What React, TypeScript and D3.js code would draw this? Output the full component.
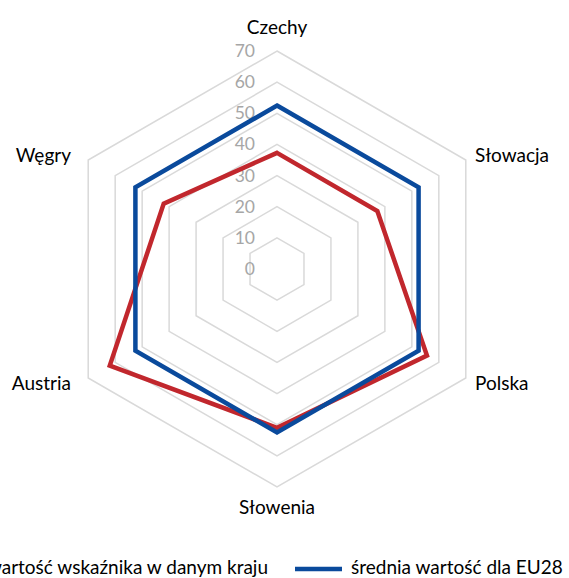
import React from "react";
import * as d3 from "d3";

const axes = ["Czechy", "Słowacja", "Polska", "Słowenia", "Austria", "Węgry"];
const countryValues = [37.3, 37.2, 55.6, 51, 62, 42];
const euValues = [52.5, 52.5, 52.5, 52.5, 52.5, 52.5];
const ticks = [0, 10, 20, 30, 40, 50, 60, 70];
const seriesNames = ["wartość wskaźnika w danym kraju", "średnia wartość dla EU28"];

const W = 569;
const H = 578;
const cx = 277;
const cy = 269;
const R = 218;
const FONT = "Lato, 'Open Sans', sans-serif";
const RED = "#c1272d";
const BLUE = "#0a4a9c";

export default function App() {
  const r = d3.scaleLinear().domain([0, 70]).range([0, R]);
  const angle = (i: number) => (i * 2 * Math.PI) / axes.length;
  const pt = (i: number, v: number): [number, number] => [
    cx + r(v) * Math.sin(angle(i)),
    cy - r(v) * Math.cos(angle(i)),
  ];
  const line = d3.line<[number, number]>().curve(d3.curveLinearClosed);
  const ring = (v: number) => line(axes.map((_, i) => pt(i, v)));
  const series = [
    { name: seriesNames[0], values: countryValues, color: RED },
    { name: seriesNames[1], values: euValues, color: BLUE },
  ];
  const labelPos = [
    { x: cx, y: 34, anchor: "middle" },
    { x: 475, y: 162, anchor: "start" },
    { x: 475, y: 390, anchor: "start" },
    { x: cx, y: 514, anchor: "middle" },
    { x: 71, y: 390, anchor: "end" },
    { x: 71, y: 162, anchor: "end" },
  ];
  return (
    <svg
      width={W}
      height={H}
      style={{ position: "absolute", left: 0, top: 0, background: "#fff" }}
      fontFamily={FONT}
    >
      {ticks.slice(1).map((t) => (
        <path key={t} d={ring(t) || ""} fill="none" stroke="#d9d9d9" strokeWidth={1.5} />
      ))}
      {ticks.map((t) => (
        <text
          key={"l" + t}
          x={255}
          y={cy - r(t) + 6}
          textAnchor="end"
          fontSize={17.5}
          fill="#a6a6a6"
        >
          {t}
        </text>
      ))}
      {series.map((s) => (
        <path
          key={s.name}
          d={line(s.values.map((v, i) => pt(i, v))) || ""}
          fill="none"
          stroke={s.color}
          strokeWidth={4.5}
          strokeLinejoin="miter"
        />
      ))}
      {axes.map((a, i) => (
        <text
          key={a}
          x={labelPos[i].x}
          y={labelPos[i].y}
          textAnchor={labelPos[i].anchor as any}
          fontSize={19}
          fill="#000"
        >
          {a}
        </text>
      ))}
      <line x1={-70} x2={-23} y1={569} y2={569} stroke={RED} strokeWidth={4.5} />
      <text x={268} y={574} fontSize={19} fill="#000" textAnchor="end">
        {seriesNames[0]}
      </text>
      <line x1={295} x2={342} y1={569} y2={569} stroke={BLUE} strokeWidth={4.5} />
      <text x={351} y={574} fontSize={19} fill="#000">
        {seriesNames[1]}
      </text>
    </svg>
  );
}
